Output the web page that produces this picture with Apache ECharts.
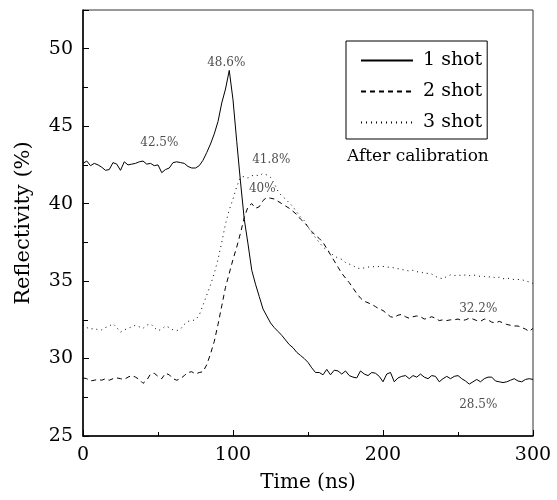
<!DOCTYPE html>
<html>
<head>
<meta charset="utf-8">
<script src="https://cdn.jsdelivr.net/npm/echarts@6/dist/echarts.min.js"></script>
<style>
  html, body { margin: 0; padding: 0; background: #fff; }
  #reflectivityChart { width: 557px; height: 500px; }
</style>
</head>
<body>
<div id="reflectivityChart"></div>
<script>
// time axis, 2.5 ns steps from 0 to 300
const timeNs = [];
for (let i = 0; i <= 120; i++) timeNs.push(i * 2.5);

const shot1 = [
  42.6, 42.75, 42.45, 42.6, 42.5, 42.35, 42.15, 42.2, 42.65, 42.55,
  42.15, 42.7, 42.5, 42.55, 42.6, 42.7, 42.75, 42.55, 42.6, 42.45,
  42.5, 42.0, 42.2, 42.3, 42.65, 42.7, 42.65, 42.6, 42.4, 42.3,
  42.3, 42.45, 42.8, 43.3, 43.85, 44.5, 45.3, 46.5, 47.4, 48.6,
  46.7, 44.0, 41.4, 39.0, 37.4, 35.7, 34.8, 34.0, 33.2, 32.75,
  32.3, 32.0, 31.75, 31.5, 31.2, 30.9, 30.7, 30.4, 30.2, 30.0,
  29.75, 29.4, 29.1, 29.1, 28.95, 29.3, 28.95, 29.25, 29.2, 29.0,
  29.2, 28.9, 28.8, 28.75, 29.2, 29.0, 28.9, 29.1, 29.05, 28.85,
  28.5, 29.0, 29.1, 28.5, 28.75, 28.85, 28.9, 28.7, 28.9, 28.8,
  29.0, 28.8, 28.7, 28.9, 28.85, 28.5, 28.7, 28.85, 28.7, 28.85,
  28.9, 28.7, 28.55, 28.35, 28.5, 28.65, 28.5, 28.7, 28.8, 28.8,
  28.55, 28.5, 28.45, 28.5, 28.6, 28.7, 28.55, 28.5, 28.65, 28.7,
  28.65
];
const shot2 = [
  28.75, 28.7, 28.55, 28.6, 28.65, 28.6, 28.7, 28.6, 28.7, 28.75,
  28.7, 28.65, 28.8, 28.9, 28.8, 28.65, 28.4, 28.6, 29.0, 29.05,
  28.85, 28.7, 29.05, 28.95, 28.7, 28.6, 28.7, 28.9, 29.1, 29.15,
  29.0, 29.1, 29.15, 29.6, 30.3, 31.1, 32.2, 33.4, 34.6, 35.5,
  36.4, 37.2, 38.1, 39.1, 39.8, 40.0, 39.7, 39.8, 40.2, 40.4,
  40.35, 40.3, 40.15, 40.0, 39.85, 39.7, 39.5, 39.3, 39.0, 38.8,
  38.5, 38.2, 37.95, 37.75, 37.5, 37.1, 36.7, 36.3, 35.9, 35.5,
  35.2, 34.9, 34.55, 34.2, 33.9, 33.7, 33.6, 33.5, 33.35, 33.2,
  33.1, 32.9, 32.7, 32.65, 32.8, 32.85, 32.7, 32.6, 32.7, 32.75,
  32.7, 32.55, 32.6, 32.7, 32.6, 32.45, 32.5, 32.45, 32.5, 32.5,
  32.55, 32.45, 32.5, 32.6, 32.55, 32.45, 32.4, 32.55, 32.5, 32.35,
  32.3, 32.4, 32.3, 32.2, 32.15, 32.1, 32.1, 32.0, 31.9, 31.75,
  31.95
];
const shot3 = [
  32.2, 32.0, 31.9, 31.95, 31.85, 31.85, 32.0, 32.1, 32.25, 32.0,
  31.7, 31.85, 31.95, 32.05, 32.15, 32.05, 31.95, 32.15, 32.25, 32.0,
  31.8, 31.9, 32.1, 32.0, 31.85, 31.8, 31.9, 32.2, 32.4, 32.45,
  32.5, 32.8, 33.45, 34.1, 34.75, 35.5, 36.4, 37.5, 38.7, 39.6,
  40.3, 41.1, 41.7, 41.75, 41.65, 41.8, 41.85, 41.8, 41.95, 41.85,
  41.7, 41.3, 40.8, 40.5, 40.3, 40.05, 39.8, 39.45, 39.15, 38.9,
  38.5, 38.1, 37.8, 37.5, 37.2, 37.0, 36.85, 36.6, 36.5, 36.4,
  36.2, 36.1, 36.0, 35.85, 35.8, 35.85, 35.9, 35.95, 35.9, 35.95,
  35.95, 35.9, 35.9, 35.85, 35.8, 35.75, 35.7, 35.65, 35.7, 35.6,
  35.6, 35.5, 35.5, 35.45, 35.3, 35.2, 35.15, 35.3, 35.4, 35.35,
  35.4, 35.35, 35.4, 35.35, 35.4, 35.35, 35.3, 35.3, 35.25, 35.3,
  35.2, 35.25, 35.15, 35.2, 35.15, 35.1, 35.1, 35.1, 35.0, 34.95,
  34.85
];

const seriesNames = ["1 shot", "2 shot", "3 shot"];
const noteText = ["48.6%", "42.5%", "41.8%", "40%", "32.2%", "28.5%"];
const noteTime = [95.5, 50.9, 125.5, 119.5, 263.5, 263.5];
const noteValue = [49.07, 43.95, 42.85, 40.95, 33.2, 27.0];

const fontFamily = "DejaVu Serif";
const chart = echarts.init(document.getElementById("reflectivityChart"));

const lineSeries = (name, values, dash) => ({
  name: name,
  type: "line",
  data: timeNs.map((t, i) => [t, values[i]]),
  symbol: "none",
  silent: true,
  lineStyle: { color: "#000", width: 1, type: dash },
  itemStyle: { color: "#000" },
});

chart.setOption({
  animation: false,
  grid: {
    left: 83,
    right: 24,
    top: 10,
    bottom: 64,
    show: true,
    borderColor: "#333",
    borderWidth: 1,
  },
  legend: {
    data: seriesNames,
    orient: "vertical",
    left: 346,
    top: 41,
    itemWidth: 52,
    itemHeight: 14,
    itemGap: 12,
    padding: [10, 5, 7, 14],
    borderColor: "#000",
    borderWidth: 1,
    selectedMode: false,
    itemStyle: { opacity: 0 },
    textStyle: {
      color: "#000",
      fontSize: 19,
      fontFamily: fontFamily,
      padding: [0, 0, 0, 5],
    },
  },
  graphic: [
    {
      type: "text",
      left: 347,
      top: 148,
      style: {
        text: "After calibration",
        fill: "#000",
        font: "17px 'DejaVu Serif'",
      },
    },
  ],
  xAxis: {
    type: "value",
    min: 0,
    max: 300,
    interval: 100,
    name: "Time (ns)",
    nameLocation: "middle",
    nameGap: 37,
    nameTextStyle: { color: "#000", fontSize: 20, fontFamily: fontFamily },
    axisLine: { lineStyle: { color: "#000", width: 1.5 } },
    axisTick: { inside: true, length: 6, lineStyle: { color: "#000" } },
    minorTick: { show: true, splitNumber: 2, length: 4, lineStyle: { color: "#000" } },
    axisLabel: { color: "#000", fontSize: 19, fontFamily: fontFamily, margin: 10 },
    splitLine: { show: false },
  },
  yAxis: {
    type: "value",
    min: 25,
    max: 52.5,
    interval: 5,
    name: "Reflectivity (%)",
    nameLocation: "middle",
    nameGap: 49,
    nameTextStyle: { color: "#000", fontSize: 21, fontFamily: fontFamily },
    axisLine: { show: true, lineStyle: { color: "#000", width: 1.5 } },
    axisTick: { show: true, inside: true, length: 6, lineStyle: { color: "#000" } },
    minorTick: { show: true, splitNumber: 2, length: 5, lineStyle: { color: "#000" } },
    axisLabel: { color: "#000", fontSize: 19, fontFamily: fontFamily, margin: 10, showMaxLabel: false },
    splitLine: { show: false },
  },
  series: [
    lineSeries(seriesNames[0], shot1, "solid"),
    lineSeries(seriesNames[1], shot2, [5, 4]),
    lineSeries(seriesNames[2], shot3, [1, 4]),
    {
      name: "notes",
      type: "scatter",
      silent: true,
      symbolSize: 1,
      itemStyle: { color: "rgba(0,0,0,0)" },
      data: noteText.map((txt, i) => [noteTime[i], noteValue[i], txt]),
      label: {
        show: true,
        position: "inside",
        formatter: (p) => p.value[2],
        color: "#222",
        fontSize: 12,
        fontFamily: fontFamily,
      },
    },
  ],
});

window.addEventListener("resize", () => {
  chart.resize();
});
</script>
</body>
</html>
